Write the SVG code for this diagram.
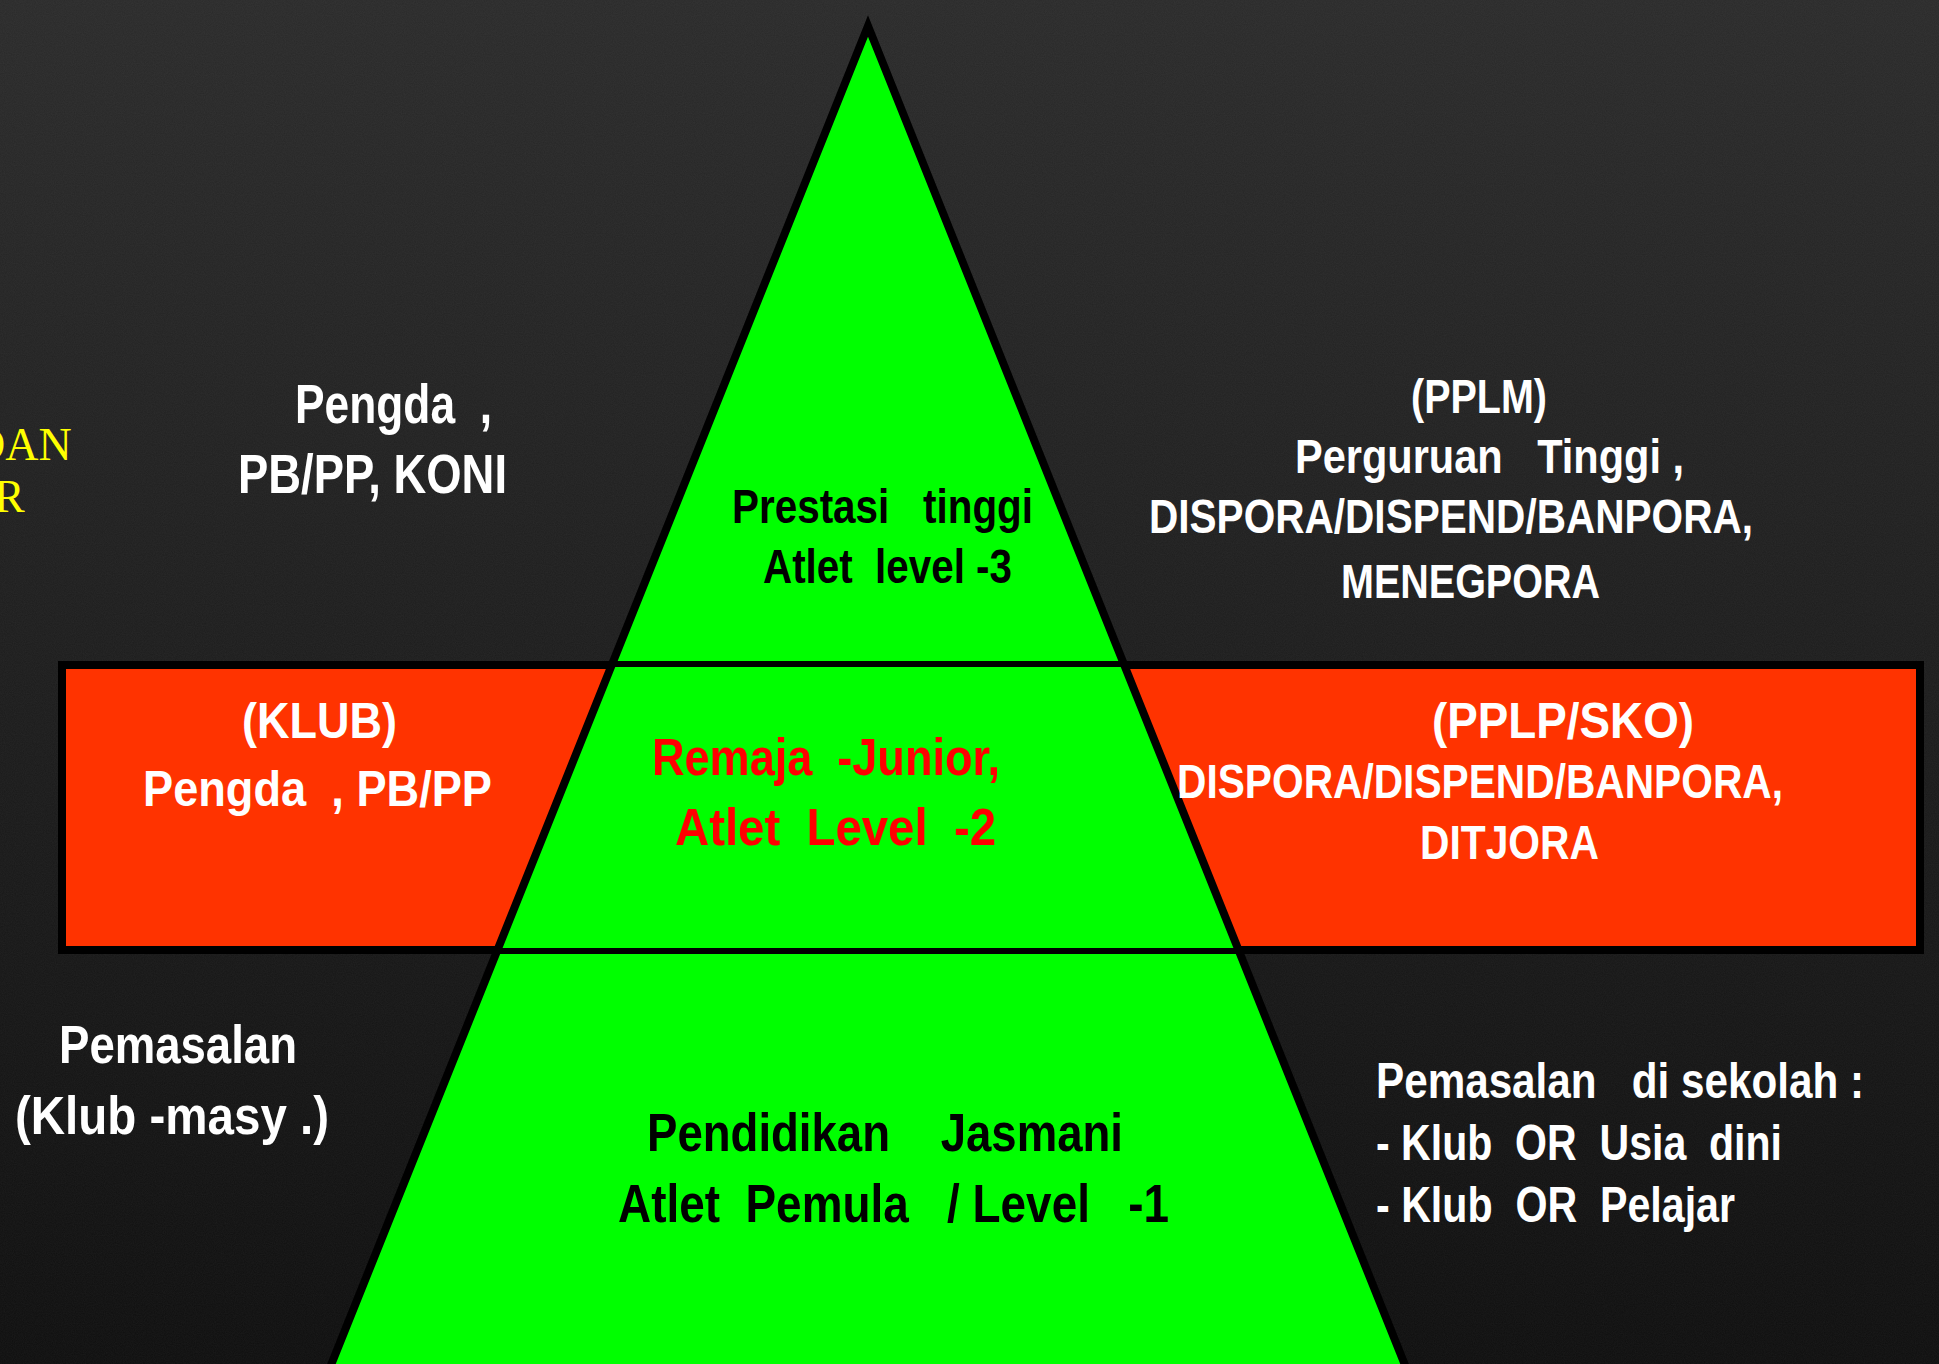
<svg xmlns="http://www.w3.org/2000/svg" width="1939" height="1364" viewBox="0 0 1939 1364">
<defs>
<linearGradient id="bg" x1="0" y1="0" x2="0" y2="1">
<stop offset="0" stop-color="#2a2a2a"/>
<stop offset="0.5" stop-color="#1c1c1c"/>
<stop offset="1" stop-color="#0e0e0e"/>
</linearGradient>
<filter id="noise" x="0" y="0" width="100%" height="100%">
<feTurbulence type="fractalNoise" baseFrequency="0.9" numOctaves="2" seed="3"/>
<feColorMatrix type="matrix" values="0 0 0 0 1  0 0 0 0 1  0 0 0 0 1  0 0 0 0.05 0"/>
</filter>
<style>
.t{font-family:"Liberation Sans",Arial,sans-serif;font-weight:bold;white-space:pre}
.w{fill:#ffffff}
.k{fill:#000000}
.r{fill:#ff0000}
.y{font-family:"Liberation Serif","Times New Roman",serif;fill:#ffff00;font-size:46px}
.box{fill:#ff3300;stroke:#000;stroke-width:8}
.tri{fill:#00ff00;stroke:#000;stroke-width:8;stroke-linejoin:miter}
.band{stroke:#000;stroke-width:6}
</style>
</defs>
<rect width="1939" height="1364" fill="url(#bg)"/>
<rect width="1939" height="1364" filter="url(#noise)"/>

<g id="yellow-cut">
<text class="y" x="-28" y="460">DAN</text>
<text class="y" x="-6" y="512">R</text>
</g>

<g id="box-left">
<rect class="box" x="62" y="665" width="700" height="285"/>
</g>
<g id="box-right">
<rect class="box" x="1000" y="665" width="920" height="285"/>
</g>

<g id="pyramid">
<polygon class="tri" points="868,26 313,1410 1423,1410"/>
</g>
<g id="connectors">
<line class="band" x1="610" y1="664" x2="1126" y2="664"/>
<line class="band" x1="496" y1="951" x2="1240" y2="951"/>
</g>

<g id="level3-text">
<text class="t k" font-size="48" x="732" y="523" textLength="301" lengthAdjust="spacingAndGlyphs">Prestasi   tinggi</text>
<text class="t k" font-size="48" x="763" y="583" textLength="249" lengthAdjust="spacingAndGlyphs">Atlet  level -3</text>
</g>
<g id="level2-text">
<text class="t r" font-size="52" x="652" y="775" textLength="348" lengthAdjust="spacingAndGlyphs">Remaja  -Junior,</text>
<text class="t r" font-size="52" x="675" y="845" textLength="321" lengthAdjust="spacingAndGlyphs">Atlet  Level  -2</text>
</g>
<g id="level1-text">
<text class="t k" font-size="54" x="647" y="1151" textLength="476" lengthAdjust="spacingAndGlyphs">Pendidikan    Jasmani</text>
<text class="t k" font-size="54" x="618" y="1222" textLength="551" lengthAdjust="spacingAndGlyphs">Atlet  Pemula   / Level   -1</text>
</g>

<g id="top-left">
<text class="t w" font-size="55" x="295" y="423" textLength="197" lengthAdjust="spacingAndGlyphs">Pengda  ,</text>
<text class="t w" font-size="55" x="238" y="493" textLength="269" lengthAdjust="spacingAndGlyphs">PB/PP, KONI</text>
</g>
<g id="top-right">
<text class="t w" font-size="48" x="1411" y="413" textLength="136" lengthAdjust="spacingAndGlyphs">(PPLM)</text>
<text class="t w" font-size="48" x="1295" y="473" textLength="389" lengthAdjust="spacingAndGlyphs">Perguruan   Tinggi ,</text>
<text class="t w" font-size="48" x="1149" y="533" textLength="604" lengthAdjust="spacingAndGlyphs">DISPORA/DISPEND/BANPORA,</text>
<text class="t w" font-size="48" x="1341" y="598" textLength="259" lengthAdjust="spacingAndGlyphs">MENEGPORA</text>
</g>
<g id="mid-left">
<text class="t w" font-size="50" x="242" y="738" textLength="155" lengthAdjust="spacingAndGlyphs">(KLUB)</text>
<text class="t w" font-size="50" x="143" y="806" textLength="349" lengthAdjust="spacingAndGlyphs">Pengda  , PB/PP</text>
</g>
<g id="mid-right">
<text class="t w" font-size="50" x="1432" y="738" textLength="262" lengthAdjust="spacingAndGlyphs">(PPLP/SKO)</text>
<text class="t w" font-size="48" x="1177" y="798" textLength="606" lengthAdjust="spacingAndGlyphs">DISPORA/DISPEND/BANPORA,</text>
<text class="t w" font-size="48" x="1420" y="859" textLength="179" lengthAdjust="spacingAndGlyphs">DITJORA</text>
</g>
<g id="bottom-left">
<text class="t w" font-size="54" x="59" y="1063" textLength="238" lengthAdjust="spacingAndGlyphs">Pemasalan</text>
<text class="t w" font-size="54" x="15" y="1134" textLength="314" lengthAdjust="spacingAndGlyphs">(Klub -masy .)</text>
</g>
<g id="bottom-right">
<text class="t w" font-size="50" x="1376" y="1098" textLength="488" lengthAdjust="spacingAndGlyphs">Pemasalan   di sekolah :</text>
<text class="t w" font-size="50" x="1376" y="1160" textLength="406" lengthAdjust="spacingAndGlyphs">- Klub  OR  Usia  dini</text>
<text class="t w" font-size="50" x="1376" y="1222" textLength="359" lengthAdjust="spacingAndGlyphs">- Klub  OR  Pelajar</text>
</g>
</svg>
